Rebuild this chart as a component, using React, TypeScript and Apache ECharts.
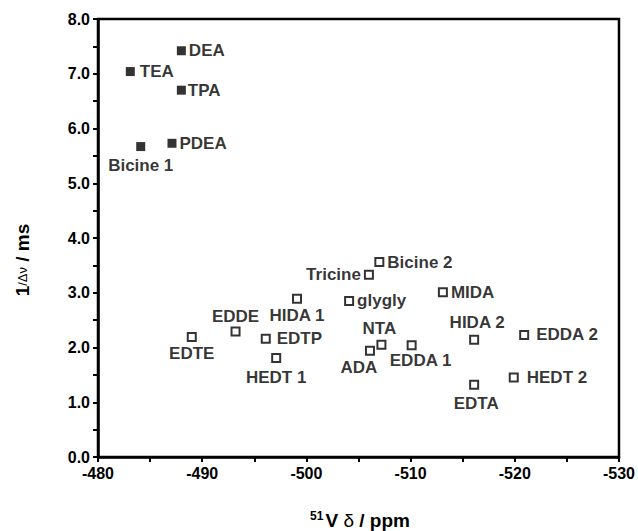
import React, { useEffect, useRef } from "react";
import * as echarts from "echarts";

// Filled squares (group 1)
const names1 = ["DEA", "TEA", "TPA", "PDEA", "Bicine 1"];
const x1 = [-488.0, -483.1, -488.0, -487.1, -484.1];
const y1 = [7.42, 7.04, 6.70, 5.73, 5.67];

// Open squares (group 2)
const names2 = [
  "Bicine 2", "Tricine", "glygly", "HIDA 1", "EDDE", "EDTE", "EDTP", "HEDT 1",
  "ADA", "NTA", "MIDA", "EDDA 1", "HIDA 2", "EDDA 2", "HEDT 2", "EDTA",
];
const x2 = [
  -507.0, -506.0, -504.1, -499.1, -493.2, -489.0, -496.1, -497.1,
  -506.1, -507.2, -513.1, -510.1, -516.1, -520.9, -519.9, -516.1,
];
const y2 = [
  3.56, 3.33, 2.85, 2.89, 2.29, 2.19, 2.16, 1.81,
  1.94, 2.05, 3.01, 2.04, 2.14, 2.23, 1.45, 1.32,
];

const xTicks = [-480, -490, -500, -510, -520, -530];
const yTicks = [0, 1, 2, 3, 4, 5, 6, 7, 8];

// label placement (style)
const labelPlace: Record<string, { position: string; distance: number; offset?: number[] }> = {
  DEA: { position: "right", distance: 3 },
  TEA: { position: "right", distance: 5 },
  TPA: { position: "right", distance: 2 },
  PDEA: { position: "right", distance: 3 },
  "Bicine 1": { position: "bottom", distance: 6 },
  "Bicine 2": { position: "right", distance: 3 },
  Tricine: { position: "left", distance: 3 },
  glygly: { position: "right", distance: 3 },
  "HIDA 1": { position: "bottom", distance: 3 },
  EDDE: { position: "top", distance: 2 },
  EDTE: { position: "bottom", distance: 3 },
  EDTP: { position: "right", distance: 6 },
  "HEDT 1": { position: "bottom", distance: 6 },
  ADA: { position: "bottom", distance: 3, offset: [-11, 0] },
  NTA: { position: "top", distance: 3, offset: [-2, 0] },
  MIDA: { position: "right", distance: 3 },
  "EDDA 1": { position: "bottom", distance: 2, offset: [9, 0] },
  "HIDA 2": { position: "top", distance: 4, offset: [3, 0] },
  "EDDA 2": { position: "right", distance: 7 },
  "HEDT 2": { position: "right", distance: 8 },
  EDTA: { position: "bottom", distance: 5, offset: [2, 0] },
};

const FONT = "'Liberation Sans', Arial, Helvetica, sans-serif";

function buildData(names: string[], xs: number[], ys: number[]) {
  return names.map((n, i) => {
    const p = labelPlace[n];
    return {
      name: n,
      value: [xs[i], ys[i]],
      label: {
        show: true,
        position: p.position,
        distance: p.distance,
        offset: p.offset || [0, 0],
        formatter: "{b}",
      },
    };
  });
}

export default function App() {
  const ref = useRef<HTMLDivElement>(null);
  useEffect(() => {
    if (!ref.current) return;
    const chart = echarts.init(ref.current, null, { renderer: "svg" });
    const labelStyle = {
      color: "#000",
      fontFamily: FONT,
      fontWeight: "bold",
      fontSize: 17,
      textBorderWidth: 0,
    };
    chart.setOption({
      animation: false,
      backgroundColor: "#fff",
      grid: {
        left: 98,
        right: 17,
        top: 19,
        bottom: 74,
        show: true,
        borderColor: "#000",
        borderWidth: 2.5,
      },
      xAxis: {
        type: "value",
        min: -530,
        max: -480,
        interval: 10,
        inverse: true,
        axisLine: { show: true, lineStyle: { color: "#000", width: 2.5 } },
        axisTick: { show: true, inside: false, length: 5, lineStyle: { color: "#000", width: 2 } },
        minorTick: { show: true, splitNumber: 2, length: 5, lineStyle: { color: "#000", width: 2 } },
        splitLine: { show: false },
        axisLabel: {
          color: "#000",
          fontFamily: FONT,
          fontWeight: "bold",
          fontSize: 16,
          margin: 8,
          customValues: xTicks,
        },
      },
      yAxis: {
        type: "value",
        min: 0,
        max: 8,
        interval: 1,
        axisLine: { show: true, lineStyle: { color: "#000", width: 2.5 } },
        axisTick: { show: true, inside: false, length: 5, lineStyle: { color: "#000", width: 2 } },
        minorTick: { show: true, splitNumber: 2, length: 5, lineStyle: { color: "#000", width: 2 } },
        splitLine: { show: false },
        axisLabel: {
          color: "#000",
          fontFamily: FONT,
          fontWeight: "bold",
          fontSize: 16,
          margin: 8,
          customValues: yTicks,
          formatter: (v: number) => v.toFixed(1),
        },
      },
      series: [
        {
          type: "scatter",
          symbol: "rect",
          symbolSize: 9,
          itemStyle: { color: "#000" },
          label: labelStyle,
          data: buildData(names1, x1, y1),
          z: 3,
        },
        {
          type: "scatter",
          symbol: "rect",
          symbolSize: 8,
          itemStyle: { color: "#fff", borderColor: "#000", borderWidth: 2 },
          label: labelStyle,
          data: buildData(names2, x2, y2),
          z: 3,
        },
      ],
      graphic: [
        {
          type: "text",
          x: 360,
          y: 520,
          style: {
            text: "{sup|51}{b|V }{g|δ}{b| / ppm}",
            align: "center",
            verticalAlign: "middle",
            rich: {
              sup: { fontFamily: FONT, fontWeight: "bold", fontSize: 12, verticalAlign: "top", padding: [0, 2, 8, 0], fill: "#000" },
              b: { fontFamily: FONT, fontWeight: "bold", fontSize: 19, fill: "#000" },
              g: { fontFamily: FONT, fontWeight: "normal", fontSize: 19, fill: "#000" },
            },
          },
        },
        {
          type: "text",
          x: 22,
          y: 260,
          rotation: Math.PI / 2,
          style: {
            text: "{b|1}{s|/Δν}{b| / ms}",
            align: "center",
            verticalAlign: "middle",
            rich: {
              b: { fontFamily: FONT, fontWeight: "bold", fontSize: 19, fill: "#000" },
              s: { fontFamily: FONT, fontWeight: "normal", fontSize: 13, fill: "#000" },
            },
          },
        },
      ],
    });
    return () => chart.dispose();
  }, []);
  return <div ref={ref} style={{ width: 638, height: 531, position: "absolute", left: 0, top: 0 }} />;
}
